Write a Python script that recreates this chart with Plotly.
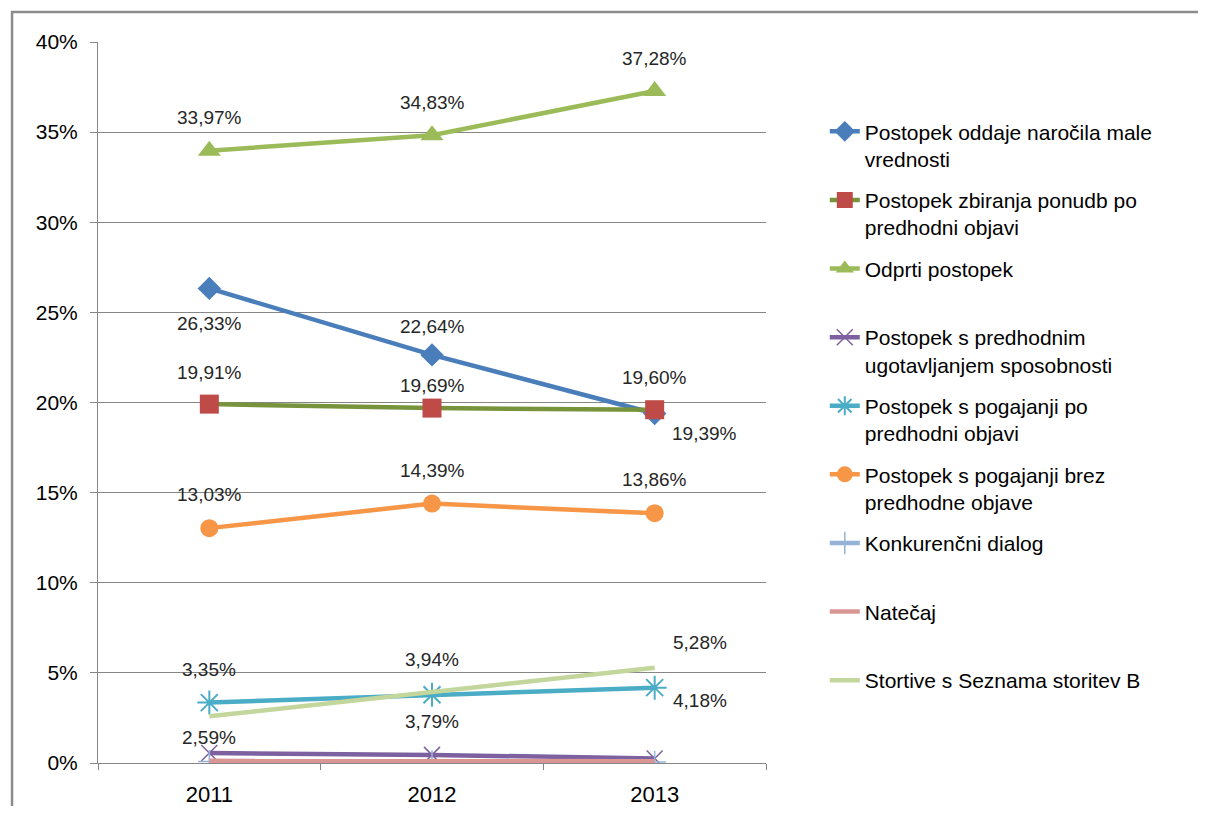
import plotly.graph_objects as go

# ---------------- data ----------------
years = ["2011", "2012", "2013"]
male_vrednosti = [26.33, 22.64, 19.39]
zbiranje_ponudb = [19.91, 19.69, 19.60]
odprti = [33.97, 34.83, 37.28]
predhodno_ugotavljanje = [0.55, 0.45, 0.25]
pogajanja_po_objavi = [3.35, 3.79, 4.18]
pogajanja_brez_objave = [13.03, 14.39, 13.86]
konkurencni_dialog = [0.08, 0.08, 0.06]
natecaj = [0.12, 0.10, 0.10]
storitve_b = [2.59, 3.94, 5.28]
y_tick_values = [0, 5, 10, 15, 20, 25, 30, 35, 40]
y_tick_labels = ["0%", "5%", "10%", "15%", "20%", "25%", "30%", "35%", "40%"]

names = [
    "Postopek oddaje naročila male<br>vrednosti",
    "Postopek zbiranja ponudb po<br>predhodni objavi",
    "Odprti postopek<br> ",
    "Postopek s predhodnim<br>ugotavljanjem sposobnosti",
    "Postopek s pogajanji po<br>predhodni objavi",
    "Postopek s pogajanji brez<br>predhodne objave",
    "Konkurenčni dialog<br> ",
    "Natečaj<br> ",
    "Stortive s Seznama storitev B<br> ",
]
values = [male_vrednosti, zbiranje_ponudb, odprti, predhodno_ugotavljanje,
          pogajanja_po_objavi, pogajanja_brez_objave, konkurencni_dialog,
          natecaj, storitve_b]

# ---------------- styles ----------------
styles = [
    dict(line="#4A7EBB", marker=dict(symbol="diamond", size=18, color="#4A7EBB")),
    dict(line="#77933C", marker=dict(symbol="square", size=19, color="#BE4B48")),
    dict(line="#9BBB59", marker=dict(symbol="triangle-up", size=20, color="#9BBB59")),
    dict(line="#7D60A0", marker=dict(symbol="x-thin-open", size=16, color="#7D60A0",
                                     line=dict(width=1.5, color="#7D60A0"))),
    dict(line="#4BACC6", marker=dict(symbol="asterisk-open", size=20, color="#4BACC6",
                                     line=dict(width=2, color="#4BACC6"))),
    dict(line="#F79646", marker=dict(symbol="circle", size=18, color="#F79646")),
    dict(line="#95B3D7", marker=dict(symbol="cross-thin-open", size=16, color="#95B3D7",
                                     line=dict(width=1.5, color="#95B3D7"))),
    dict(line="#D99694", marker=None),
    dict(line="#C3D69B", marker=None),
]

# data label pixel offsets (dx, dy up) per labelled series index
label_offsets = {
    0: [(0, -35), (0, 28), (50, -20)],
    1: [(0, 32), (0, 23), (0, 32)],
    2: [(0, 33), (0, 33), (0, 33)],
    4: [(0, 33), (0, -27), (45, -13)],
    5: [(0, 34), (0, 33), (0, 34)],
    8: [(0, -21), (0, 32), (45, 25)],
}

FONT = "Liberation Sans, Arial, sans-serif"
GRID = "#868686"

fig = go.Figure()
for i, (name, vals, st) in enumerate(zip(names, values, styles)):
    kw = dict(
        x=years, y=vals, name=name, legendgroup=f"g{i}",
        line=dict(color=st["line"], width=4.5),
    )
    if st["marker"] is not None:
        kw["mode"] = "lines+markers"
        kw["marker"] = st["marker"]
    else:
        kw["mode"] = "lines"
    fig.add_trace(go.Scatter(**kw))

for i, offs in label_offsets.items():
    for j, (v, (dx, dy)) in enumerate(zip(values[i], offs)):
        fig.add_annotation(
            x=j, y=v, xref="x", yref="y",
            text=f"{v:.2f}".replace(".", ",") + "%",
            showarrow=False, xshift=dx, yshift=dy,
            font=dict(family=FONT, size=19, color="#262626"),
        )

fig.update_layout(
    width=1190, height=798,
    margin=dict(l=90, r=432, t=34, b=43),
    paper_bgcolor="white", plot_bgcolor="white",
    font=dict(family=FONT, color="#000000"),
    showlegend=True,
    legend=dict(
        x=1.088, xanchor="left", y=0.904, yanchor="top",
        font=dict(family=FONT, size=21, color="#000000"),
        tracegroupgap=11, valign="top",
        bgcolor="rgba(0,0,0,0)",
    ),
    shapes=[dict(
        type="rect", xref="paper", yref="paper",
        x0=-0.1287, x1=1.8, y0=-0.3, y1=1.0416,
        line=dict(color="#8C8C8C", width=2.5), layer="below",
    )],
    xaxis=dict(
        type="category", range=[-0.5, 2.5], automargin=False,
        showgrid=False, showline=True, linecolor=GRID, linewidth=1,
        ticks="outside", tickson="boundaries", ticklen=6, tickcolor=GRID,
        tickfont=dict(family=FONT, size=22, color="#000000"),
        ticklabelstandoff=12,
    ),
    yaxis=dict(
        range=[0, 40], tickmode="array", tickvals=y_tick_values, ticktext=y_tick_labels,
        automargin=False,
        showgrid=True, gridcolor=GRID, gridwidth=1,
        zeroline=False, showline=True, linecolor=GRID, linewidth=1,
        ticks="outside", ticklen=7, tickcolor=GRID,
        tickfont=dict(family=FONT, size=21, color="#000000"),
        ticklabelstandoff=8,
    ),
)

fig.write_html("out.html")
